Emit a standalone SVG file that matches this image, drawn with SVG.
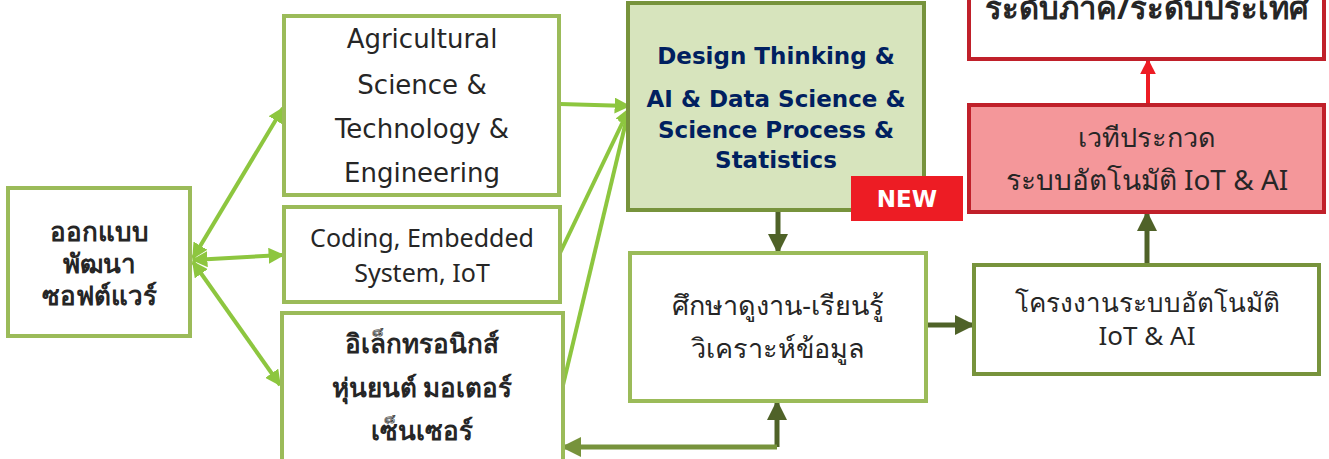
<svg xmlns="http://www.w3.org/2000/svg" width="1329" height="459" viewBox="0 0 1329 459">
<style>
.box{fill:#fff;stroke:#9BBB59;stroke-width:4}
.dark{fill:#fff;stroke:#77933C;stroke-width:4}
.th{font-family:"Noto Sans","DejaVu Sans",sans-serif;fill:#262626;text-anchor:middle}
.en{font-family:"DejaVu Sans","Liberation Sans",sans-serif;fill:#262626;text-anchor:middle}
.lg{stroke:#8DC63F;stroke-width:4;fill:none}
.dg{stroke:#4F6228;stroke-width:5;fill:none}
</style>
<defs>
<marker id="aL" viewBox="0 0 10 10" refX="9" refY="5" markerWidth="4" markerHeight="4" orient="auto-start-reverse" markerUnits="strokeWidth"><path d="M0,0 L10,5 L0,10 z" fill="#8DC63F"/></marker>
<marker id="aD" viewBox="0 0 10 10" refX="9" refY="5" markerWidth="4" markerHeight="4" orient="auto-start-reverse" markerUnits="strokeWidth"><path d="M0,0 L10,5 L0,10 z" fill="#4F6228"/></marker>
<marker id="aM" viewBox="0 0 10 10" refX="9" refY="5" markerWidth="4" markerHeight="4" orient="auto-start-reverse" markerUnits="strokeWidth"><path d="M0,0 L10,5 L0,10 z" fill="#77933C"/></marker>
<marker id="aR" viewBox="0 0 10 10" refX="9" refY="5" markerWidth="4" markerHeight="4" orient="auto-start-reverse" markerUnits="strokeWidth"><path d="M0,0 L10,5 L0,10 z" fill="#ED1C24"/></marker>
</defs>
<g id="connectors">
<path class="lg" d="M193,258 L283,108" marker-start="url(#aL)" marker-end="url(#aL)"/>
<path class="lg" d="M193,260 L283,255" marker-start="url(#aL)" marker-end="url(#aL)"/>
<path class="lg" d="M193,262 L280,385" marker-start="url(#aL)" marker-end="url(#aL)"/>
<path class="lg" d="M560,104 L629,106" marker-end="url(#aL)"/>
<path class="lg" d="M560,253 L629,109" marker-end="url(#aL)"/>
<path class="lg" d="M563,385 L629,109" marker-end="url(#aL)"/>
<path class="dg" d="M778,211 L778,252" marker-end="url(#aD)"/>
<path class="dg" d="M927,325 L973,325" marker-end="url(#aD)"/>
<path class="dg" d="M1147,264 L1147,213" marker-end="url(#aD)"/>
<path d="M1148,104 L1148,60" stroke="#ED1C24" stroke-width="4" fill="none" marker-end="url(#aR)"/>
<path class="dg" d="M777,447 L777,402" marker-end="url(#aD)"/>
<path d="M777,447 L563,447" stroke="#77933C" stroke-width="5" fill="none" marker-end="url(#aM)"/>
</g>
<g id="n-software">
<rect class="box" x="8" y="188" width="182" height="148"/>
<text class="th" font-size="26" font-weight="bold" x="99" y="241">ออกแบบ</text>
<text class="th" font-size="26" font-weight="bold" x="99" y="273">พัฒนา</text>
<text class="th" font-size="26" font-weight="bold" x="99" y="305">ซอฟต์แวร์</text>
</g>
<g id="n-agri">
<rect class="box" x="284" y="16" width="275" height="179"/>
<text class="en" font-size="26" x="422" y="48">Agricultural</text>
<text class="en" font-size="26" x="422" y="94">Science &amp;</text>
<text class="en" font-size="26" x="422" y="138">Technology &amp;</text>
<text class="en" font-size="26" x="422" y="182">Engineering</text>
</g>
<g id="n-coding">
<rect class="box" x="284" y="207" width="276" height="95"/>
<text class="th" font-size="25" x="422" y="247">Coding, Embedded</text>
<text class="th" font-size="25" x="422" y="282">System, IoT</text>
</g>
<g id="n-electronics">
<rect class="box" x="282" y="313" width="281" height="160"/>
<text class="th" font-size="26" font-weight="bold" x="422" y="353">อิเล็กทรอนิกส์</text>
<text class="th" font-size="26" font-weight="bold" x="422" y="397">หุ่นยนต์ มอเตอร์</text>
<text class="th" font-size="26" font-weight="bold" x="422" y="440">เซ็นเซอร์</text>
</g>
<g id="n-design">
<rect x="628" y="3" width="296" height="207" fill="#D7E4BD" stroke="#77933C" stroke-width="4"/>
<g font-family="'DejaVu Sans',Verdana,sans-serif" font-weight="bold" font-size="23" fill="#002060" text-anchor="middle">
<text x="776" y="64">Design Thinking &amp;</text>
<text x="776" y="107">AI &amp; Data Science &amp;</text>
<text x="776" y="138">Science Process &amp;</text>
<text x="776" y="168">Statistics</text>
</g>
</g>
<g id="n-new">
<rect x="851" y="176" width="112" height="45" fill="#ED1C24"/>
<text x="907" y="207" font-family="'DejaVu Sans',Verdana,sans-serif" font-weight="bold" font-size="23" fill="#fff" text-anchor="middle">NEW</text>
</g>
<g id="n-study">
<rect class="box" x="630" y="253" width="296" height="148"/>
<text class="th" font-size="27" x="778" y="315">ศึกษาดูงาน-เรียนรู้</text>
<text class="th" font-size="27" x="778" y="358">วิเคราะห์ข้อมูล</text>
</g>
<g id="n-project">
<rect class="dark" x="974" y="265" width="345" height="109"/>
<text class="th" font-size="26" x="1147" y="312">โครงงานระบบอัตโนมัติ</text>
<text class="th" font-size="26" x="1147" y="345">IoT &amp; AI</text>
</g>
<g id="n-contest">
<rect x="969" y="105" width="355" height="107" fill="#F4979A" stroke="#C0202A" stroke-width="4"/>
<text class="th" font-size="27" x="1147" y="147">เวทีประกวด</text>
<text class="th" font-size="28" x="1147" y="190">ระบบอัตโนมัติ IoT &amp; AI</text>
</g>
<g id="n-level">
<rect x="969" y="-20" width="355" height="79" fill="#fff" stroke="#C0202A" stroke-width="4"/>
<text class="th" font-size="31" font-weight="bold" x="1147" y="19">ระดับภาค/ระดับประเทศ</text>
</g>
</svg>
